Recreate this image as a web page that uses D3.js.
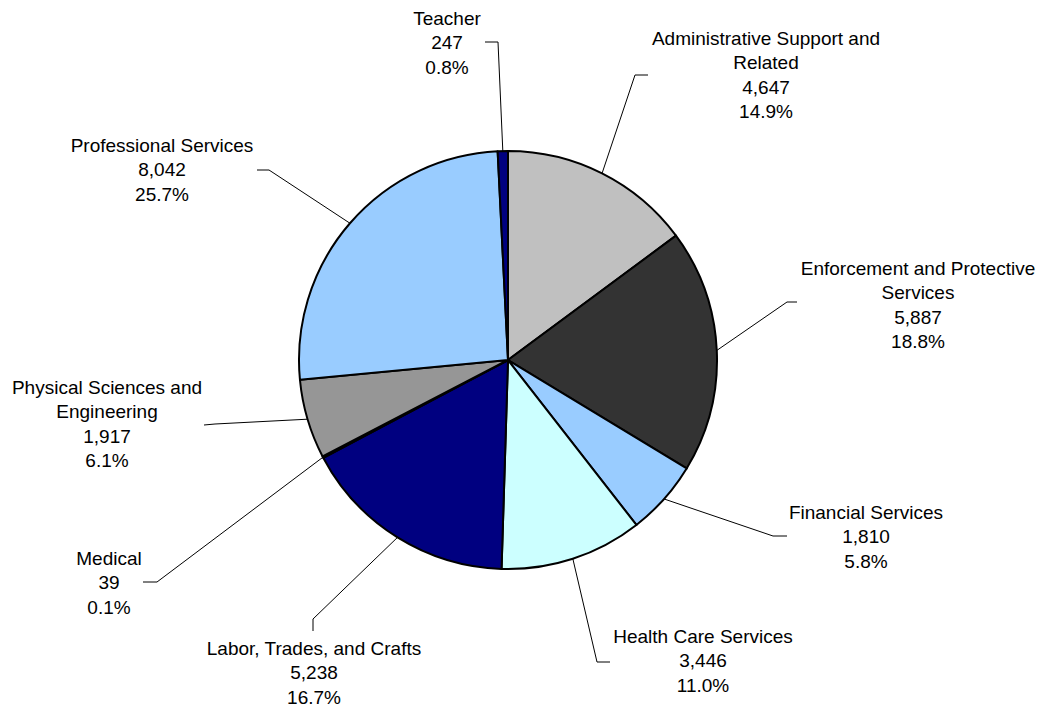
<!DOCTYPE html>
<html>
<head>
<meta charset="utf-8">
<script src="https://cdn.jsdelivr.net/npm/d3@7"></script>
<style>
  html, body { margin: 0; padding: 0; background: #fff; }
  svg { display: block; }
  text { font-family: "Liberation Sans", Arial, sans-serif; font-size: 19px; fill: #000; }
</style>
</head>
<body>
<svg id="chart" width="1042" height="707"></svg>
<script>
// Occupational groups, clockwise from 12 o'clock
const categories = [
  ["Administrative Support and", "Related"],
  ["Enforcement and Protective", "Services"],
  ["Financial Services"],
  ["Health Care Services"],
  ["Labor, Trades, and Crafts"],
  ["Medical"],
  ["Physical Sciences and", "Engineering"],
  ["Professional Services"],
  ["Teacher"]
];
const employees = [4647, 5887, 1810, 3446, 5238, 39, 1917, 8042, 247];
const percentLabels = ["14.9%", "18.8%", "5.8%", "11.0%", "16.7%", "0.1%", "6.1%", "25.7%", "0.8%"];
const sliceColors = ["#C0C0C0", "#333333", "#99CCFF", "#CCFFFF", "#000080", "#FFFFFF", "#969696", "#99CCFF", "#000080"];

// Label placement: text centre, elbow of the leader line and the line's end next to the text
const labelLayout = [
  { x: 766, y: 38,  elbow: [635, 75],  end: [648, 75] },
  { x: 918, y: 268, elbow: [787, 302], end: [797, 302] },
  { x: 866, y: 512, elbow: [773, 536], end: [787, 536] },
  { x: 703, y: 636, elbow: [597, 662], end: [610, 662] },
  { x: 314, y: 648, elbow: [313, 619], end: [313, 631] },
  { x: 109, y: 558, elbow: [157, 582], end: [143, 582] },
  { x: 107, y: 387, elbow: [215, 424], end: [204, 425] },
  { x: 162, y: 145, elbow: [269, 170], end: [257, 170] },
  { x: 447, y: 18,  elbow: [498, 42],  end: [485, 42] }
];

const cx = 508, cy = 360, radius = 209;
const fmt = d3.format(",");

const svg = d3.select("#chart");
const g = svg.append("g").attr("transform", `translate(${cx},${cy})`);

const pie = d3.pie().sort(null).value(d => d);
const arcs = pie(employees);
const arc = d3.arc().innerRadius(0).outerRadius(radius);

g.selectAll("path.slice")
  .data(arcs)
  .join("path")
  .attr("class", "slice")
  .attr("d", arc)
  .attr("fill", (d, i) => sliceColors[i])
  .attr("stroke", "#000")
  .attr("stroke-width", 2)
  .attr("stroke-linejoin", "round");

// Leader lines from the rim at each slice's mid-angle
const lines = svg.append("g");
arcs.forEach((a, i) => {
  const mid = (a.startAngle + a.endAngle) / 2;
  const ax = cx + radius * Math.sin(mid);
  const ay = cy - radius * Math.cos(mid);
  const L = labelLayout[i];
  lines.append("polyline")
    .attr("points", [[ax, ay], L.elbow, L.end].map(p => p.join(",")).join(" "))
    .attr("fill", "none")
    .attr("stroke", "#000")
    .attr("stroke-width", 1);
});

// Labels: name lines, count, share
const labels = svg.append("g");
categories.forEach((name, i) => {
  const L = labelLayout[i];
  const rows = [...name, fmt(employees[i]), percentLabels[i]];
  const t = labels.append("text")
    .attr("text-anchor", "middle")
    .attr("x", L.x)
    .attr("y", L.y);
  rows.forEach((r, k) => {
    t.append("tspan")
      .attr("x", L.x)
      .attr("y", L.y + k * 24.5)
      .attr("dy", "0.35em")
      .text(r);
  });
});
</script>
</body>
</html>
